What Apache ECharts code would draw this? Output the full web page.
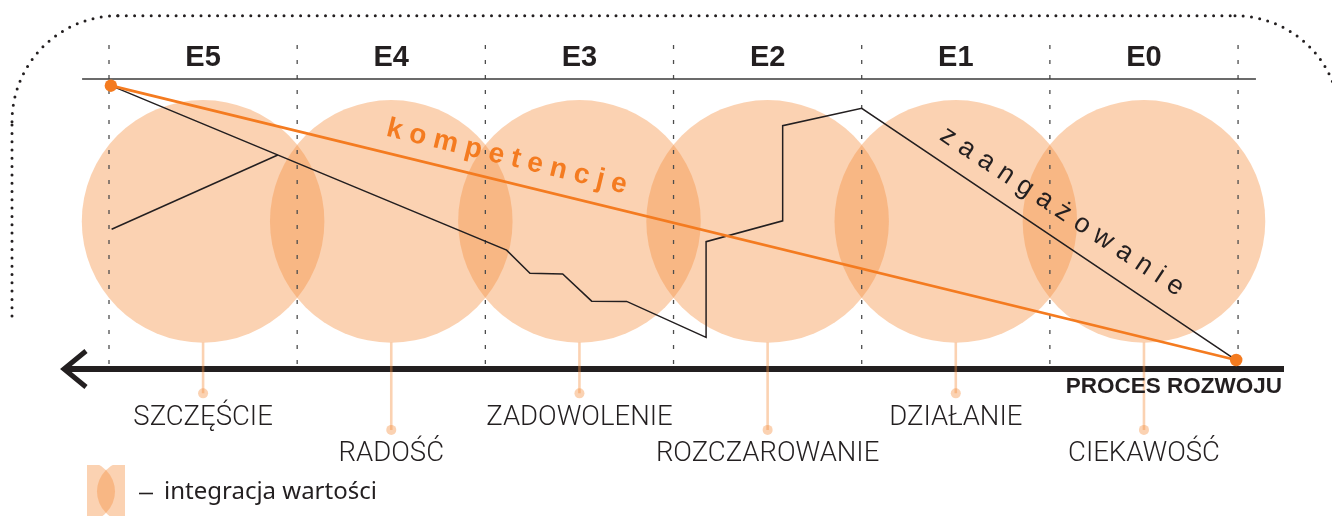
<!DOCTYPE html>
<html>
<head>
<meta charset="utf-8">
<script src="https://cdn.jsdelivr.net/npm/echarts@6/dist/echarts.min.js"></script>
<style>
  html, body { margin: 0; padding: 0; background: #fff; }
  #main { width: 1332px; height: 516px; }
</style>
</head>
<body>
<div id="main"></div>
<script>
// etapy rozwoju (od lewej do prawej)
const stages = ['E5', 'E4', 'E3', 'E2', 'E1', 'E0'];
const emotions = ['SZCZĘŚCIE', 'RADOŚĆ', 'ZADOWOLENIE', 'ROZCZAROWANIE', 'DZIAŁANIE', 'CIEKAWOŚĆ'];
// poziom kropki pod każdym kołem
const emotionLevel = [-8.4, -21.0, -8.4, -21.0, -8.4, -21.0];
const circleLevel = 50.9;
const dividers = [0, 1, 2, 3, 4, 5, 6];
// kompetencje - prosta linia
const competence = [[0.01, 97.7], [5.99, 3.1]];
// zaangażowanie - łamana
const engagement = [
  [0.01, 97.7], [2.113, 41.0], [2.237, 33.0], [2.411, 32.8], [2.565, 23.4],
  [2.751, 23.3], [3.173, 10.9], [3.173, 43.9], [3.58, 51.1], [3.58, 83.9],
  [4.0, 89.9], [5.99, 3.1]
];
const engagementBranch = [[0.014, 48.2], [0.897, 73.8]];

const ORANGE = '#F47B20';
const DARK = '#231F20';
const PEACH = 'rgba(244,142,62,0.4)';

function spaced (word, key) {
  return word.split('').map(c => '{' + key + '|' + c + '}').join('');
}

let chart = echarts.init(document.getElementById('main'));

let series = [];

// koła
series.push({
  type: 'scatter',
  symbol: 'circle',
  symbolSize: 242.6,
  itemStyle: { color: PEACH, opacity: 1 },
  z: 1,
  silent: true,
  data: stages.map((s, i) => [i + 0.5, circleLevel])
});

// przerywane pionowe linie
dividers.forEach(x => {
  series.push({
    type: 'line',
    symbol: 'none',
    z: 2,
    silent: true,
    lineStyle: { color: '#4d4d4d', width: 1.3, type: [4, 11] },
    data: [[x, 111.7], [x, 1.4]]
  });
});

// górna linia
series.push({
  type: 'line',
  symbol: 'none',
  z: 2,
  silent: true,
  lineStyle: { color: '#3a3a3a', width: 1.5 },
  data: [[-0.143, 100], [6.095, 100]]
});

// nóżki kół
stages.forEach((s, i) => {
  series.push({
    type: 'line',
    symbol: 'none',
    z: 5,
    silent: true,
    lineStyle: { color: PEACH, width: 2.6 },
    data: [[i + 0.5, circleLevel - 41.8], [i + 0.5, emotionLevel[i]]]
  });
});

// kropki + etykiety emocji
series.push({
  type: 'scatter',
  symbol: 'circle',
  symbolSize: 10,
  z: 6,
  silent: true,
  itemStyle: { color: PEACH, opacity: 1 },
  label: {
    show: true,
    position: 'inside',
    offset: [0, 24.5],
    formatter: p => emotions[p.dataIndex],
    fontFamily: 'Roboto',
    fontWeight: 300,
    fontSize: 27.5,
    color: DARK,
    textBorderWidth: 0
  },
  data: emotionLevel.map((v, i) => [i + 0.5, v])
});

// nagłówki etapów
series.push({
  type: 'scatter',
  symbolSize: 1,
  z: 6,
  silent: true,
  itemStyle: { color: 'transparent', opacity: 1 },
  label: {
    show: true,
    position: 'inside',
    formatter: p => stages[p.dataIndex],
    fontFamily: 'Liberation Sans',
    fontWeight: 'bold',
    fontSize: 29,
    color: DARK,
    textBorderWidth: 0
  },
  data: stages.map((s, i) => [i + 0.5, 107.4])
});

// zaangażowanie
series.push({
  type: 'line',
  symbol: 'none',
  z: 8,
  silent: true,
  lineStyle: { color: DARK, width: 1.5, join: 'miter' },
  data: engagement
});
series.push({
  type: 'line',
  symbol: 'none',
  z: 8,
  silent: true,
  lineStyle: { color: DARK, width: 1.5 },
  data: engagementBranch
});

// kompetencje
series.push({
  type: 'line',
  symbol: 'circle',
  symbolSize: 12.5,
  showSymbol: true,
  z: 9,
  silent: true,
  itemStyle: { color: ORANGE },
  lineStyle: { color: ORANGE, width: 2.7 },
  data: competence
});

const dotted = { fill: 'none', stroke: DARK, lineWidth: 3, lineDash: [0, 8.3], lineCap: 'round' };

let option = {
  animation: false,
  backgroundColor: '#fff',
  grid: { left: 33.73, right: 18.67, top: 21, bottom: 31 },
  xAxis: { type: 'value', min: -0.4, max: 6.4, show: false },
  yAxis: { type: 'value', min: -40, max: 120, show: false },
  graphic: [
    // kropkowana ramka
    { type: 'line', z: 0, silent: true, shape: { x1: 12, y1: 316, x2: 12, y2: 121 }, style: dotted },
    { type: 'arc', z: 0, silent: true, shape: { cx: 118, cy: 121.7, r: 106, startAngle: Math.PI, endAngle: Math.PI * 1.5, clockwise: true }, style: dotted },
    { type: 'line', z: 0, silent: true, shape: { x1: 118, y1: 15.7, x2: 1235, y2: 15.7 }, style: dotted },
    { type: 'arc', z: 0, silent: true, shape: { cx: 1235, cy: 120.7, r: 105, startAngle: Math.PI * 1.5, endAngle: Math.PI * 2, clockwise: true }, style: dotted },
    // strzałka procesu
    {
      type: 'line',
      z: 1,
      silent: true,
      shape: { x1: 64, y1: 369, x2: 1284, y2: 369 },
      style: { stroke: DARK, lineWidth: 6 }
    },
    {
      type: 'polyline',
      z: 1,
      silent: true,
      shape: { points: [[86, 351], [64, 369], [86, 387]] },
      style: { stroke: DARK, lineWidth: 5, fill: 'none', lineJoin: 'miter' }
    },
    {
      type: 'text',
      z: 20,
      silent: true,
      x: 1282,
      y: 387,
      style: {
        text: 'PROCES ROZWOJU',
        align: 'right',
        verticalAlign: 'middle',
        fontFamily: 'Liberation Sans',
        fontWeight: 'bold',
        fontSize: 22.5,
        fill: DARK
      }
    },
    // napisy wzdłuż linii
    {
      type: 'text',
      z: 20,
      silent: true,
      x: 506.8,
      y: 157,
      rotation: -13.6 * Math.PI / 180,
      style: {
        text: spaced('kompetencje', 'l'),
        align: 'center',
        verticalAlign: 'middle',
        fill: ORANGE,
        rich: {
          l: {
            fontFamily: 'Liberation Sans',
            fontWeight: 'bold',
            fontSize: 28,
            fill: ORANGE,
            padding: [0, 3.75, 0, 3.75]
          }
        }
      }
    },
    {
      type: 'text',
      z: 20,
      silent: true,
      x: 1062,
      y: 211.5,
      rotation: -33.4 * Math.PI / 180,
      style: {
        text: spaced('zaangażowanie', 'l'),
        align: 'center',
        verticalAlign: 'middle',
        fill: DARK,
        rich: {
          l: {
            fontFamily: 'Liberation Sans',
            fontSize: 27,
            fill: DARK,
            padding: [0, 4.1, 0, 4.1]
          }
        }
      }
    },
    // legenda: ikonka integracji wartości
    {
      type: 'circle',
      z: 30,
      silent: true,
      shape: { cx: 84.8, cy: 491.5, r: 30.2 },
      style: { fill: PEACH }
    },
    {
      type: 'circle',
      z: 30,
      silent: true,
      shape: { cx: 127.2, cy: 491.5, r: 30.2 },
      style: { fill: PEACH }
    },
    {
      type: 'rect',
      z: 31,
      silent: true,
      shape: { x: 40, y: 455, width: 47, height: 61 },
      style: { fill: '#fff' }
    },
    {
      type: 'rect',
      z: 31,
      silent: true,
      shape: { x: 125, y: 455, width: 40, height: 61 },
      style: { fill: '#fff' }
    },
    {
      type: 'rect',
      z: 31,
      silent: true,
      shape: { x: 40, y: 455, width: 125, height: 10 },
      style: { fill: '#fff' }
    },
    {
      type: 'line',
      z: 32,
      silent: true,
      shape: { x1: 139, y1: 493.5, x2: 153, y2: 493.5 },
      style: { stroke: DARK, lineWidth: 1.6 }
    },
    {
      type: 'text',
      z: 32,
      silent: true,
      x: 164,
      y: 492,
      style: {
        text: 'integracja wartości',
        align: 'left',
        verticalAlign: 'middle',
        fontFamily: 'Noto Sans',
        fontSize: 24,
        fill: DARK
      }
    }
  ],
  series: series
};

chart.setOption(option);
</script>
</body>
</html>
